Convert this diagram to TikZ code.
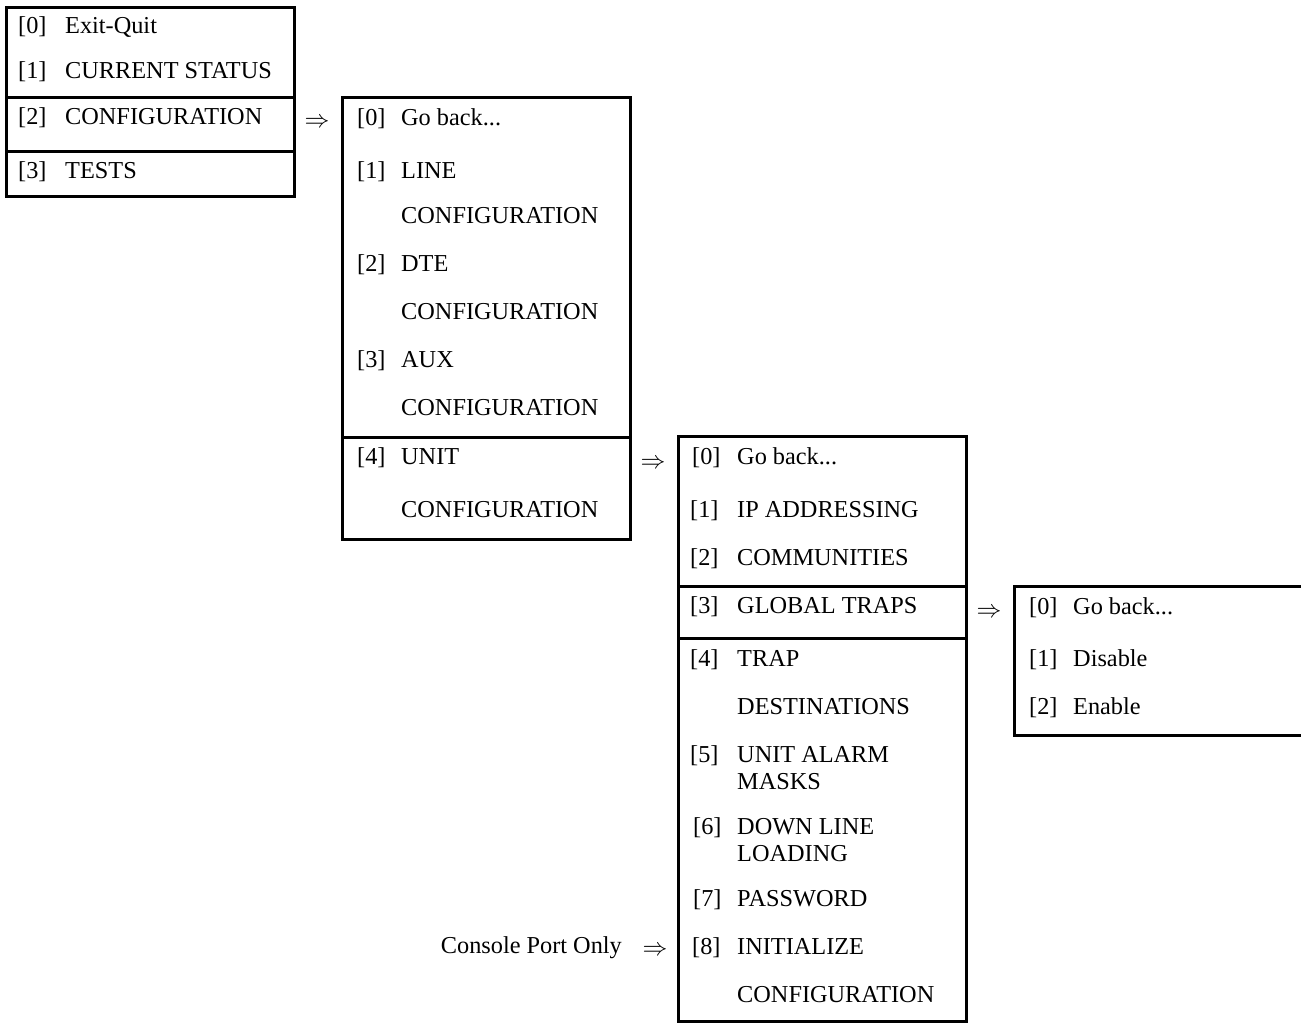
\documentclass[tikz,border=0pt]{standalone}
\usepackage{fontspec}
\setmainfont{Liberation Serif}
\newcommand{\itemfont}{\fontsize{24.3}{28}\selectfont}
\tikzset{
  frame/.style={line width=3pt, line cap=rect},
  item/.style={anchor=base west, inner sep=0pt, font=\itemfont},
  goesto/.style={anchor=center, inner sep=0pt, font=\itemfont},
}
\begin{document}
\begin{tikzpicture}[x=1pt, y=-1pt]
\useasboundingbox (0,0) rectangle (1301,1023);

% ---- main menu ----
\draw[frame] (6,7) rectangle (294,196);
\draw[frame] (6,97) -- (294,97);
\draw[frame] (6,151) -- (294,151);
\node[item] (m0n) at (18,33)  {[0]};  \node[item] (m0t) at (65,33)  {Exit-Quit};
\node[item] (m1n) at (18,78)  {[1]};  \node[item] (m1t) at (65,78)  {CURRENT STATUS};
\node[item] (m2n) at (18,124) {[2]};  \node[item] (m2t) at (65,124) {CONFIGURATION};
\node[item] (m3n) at (18,178) {[3]};  \node[item] (m3t) at (65,178) {TESTS};

\node[goesto] (a1) at (317,123) {$\Rightarrow$};

% ---- configuration menu ----
\draw[frame] (342,97) rectangle (630,539);
\draw[frame] (342,437) -- (630,437);
\node[item] (c0n) at (357,125) {[0]};  \node[item] (c0t) at (401,125) {Go back...};
\node[item] (c1n) at (357,178) {[1]};  \node[item] (c1t) at (401,178) {LINE};
                                       \node[item] (c1u) at (401,223) {CONFIGURATION};
\node[item] (c2n) at (357,271) {[2]};  \node[item] (c2t) at (401,271) {DTE};
                                       \node[item] (c2u) at (401,319) {CONFIGURATION};
\node[item] (c3n) at (357,367) {[3]};  \node[item] (c3t) at (401,367) {AUX};
                                       \node[item] (c3u) at (401,415) {CONFIGURATION};
\node[item] (c4n) at (357,464) {[4]};  \node[item] (c4t) at (401,464) {UNIT};
                                       \node[item] (c4u) at (401,517) {CONFIGURATION};

\node[goesto] (a2) at (653,464) {$\Rightarrow$};

% ---- unit configuration menu ----
\draw[frame] (678,436) rectangle (966,1021);
\draw[frame] (678,586) -- (966,586);
\draw[frame] (678,638) -- (966,638);
\node[item] (u0n) at (692,464)  {[0]};  \node[item] (u0t) at (737,464)  {Go back...};
\node[item] (u1n) at (690,517)  {[1]};  \node[item] (u1t) at (737,517)  {IP ADDRESSING};
\node[item] (u2n) at (690,565)  {[2]};  \node[item] (u2t) at (737,565)  {COMMUNITIES};
\node[item] (u3n) at (690,613)  {[3]};  \node[item] (u3t) at (737,613)  {GLOBAL TRAPS};
\node[item] (u4n) at (690,666)  {[4]};  \node[item] (u4t) at (737,666)  {TRAP};
                                        \node[item] (u4u) at (737,714)  {DESTINATIONS};
\node[item] (u5n) at (690,762)  {[5]};  \node[item] (u5t) at (737,762)  {UNIT ALARM};
                                        \node[item] (u5u) at (737,789)  {MASKS};
\node[item] (u6n) at (693,834)  {[6]};  \node[item] (u6t) at (737,834)  {DOWN LINE};
                                        \node[item] (u6u) at (737,861)  {LOADING};
\node[item] (u7n) at (693,906)  {[7]};  \node[item] (u7t) at (737,906)  {PASSWORD};
\node[item] (u8n) at (692,954)  {[8]};  \node[item] (u8t) at (737,954)  {INITIALIZE};
                                        \node[item] (u8u) at (737,1002) {CONFIGURATION};

\node[goesto] (a3) at (989,613) {$\Rightarrow$};

% ---- global traps menu (runs off the right edge) ----
\draw[frame] (1305,586) -- (1014,586) -- (1014,735) -- (1305,735);
\node[item] (g0n) at (1029,614) {[0]};  \node[item] (g0t) at (1073,614) {Go back...};
\node[item] (g1n) at (1029,666) {[1]};  \node[item] (g1t) at (1073,666) {Disable};
\node[item] (g2n) at (1029,714) {[2]};  \node[item] (g2t) at (1073,714) {Enable};

% ---- console-only note ----
\node[item, anchor=base east] (note) at (622,953) {Console Port Only};
\node[goesto] (a4) at (655,951) {$\Rightarrow$};
\end{tikzpicture}
\end{document}
